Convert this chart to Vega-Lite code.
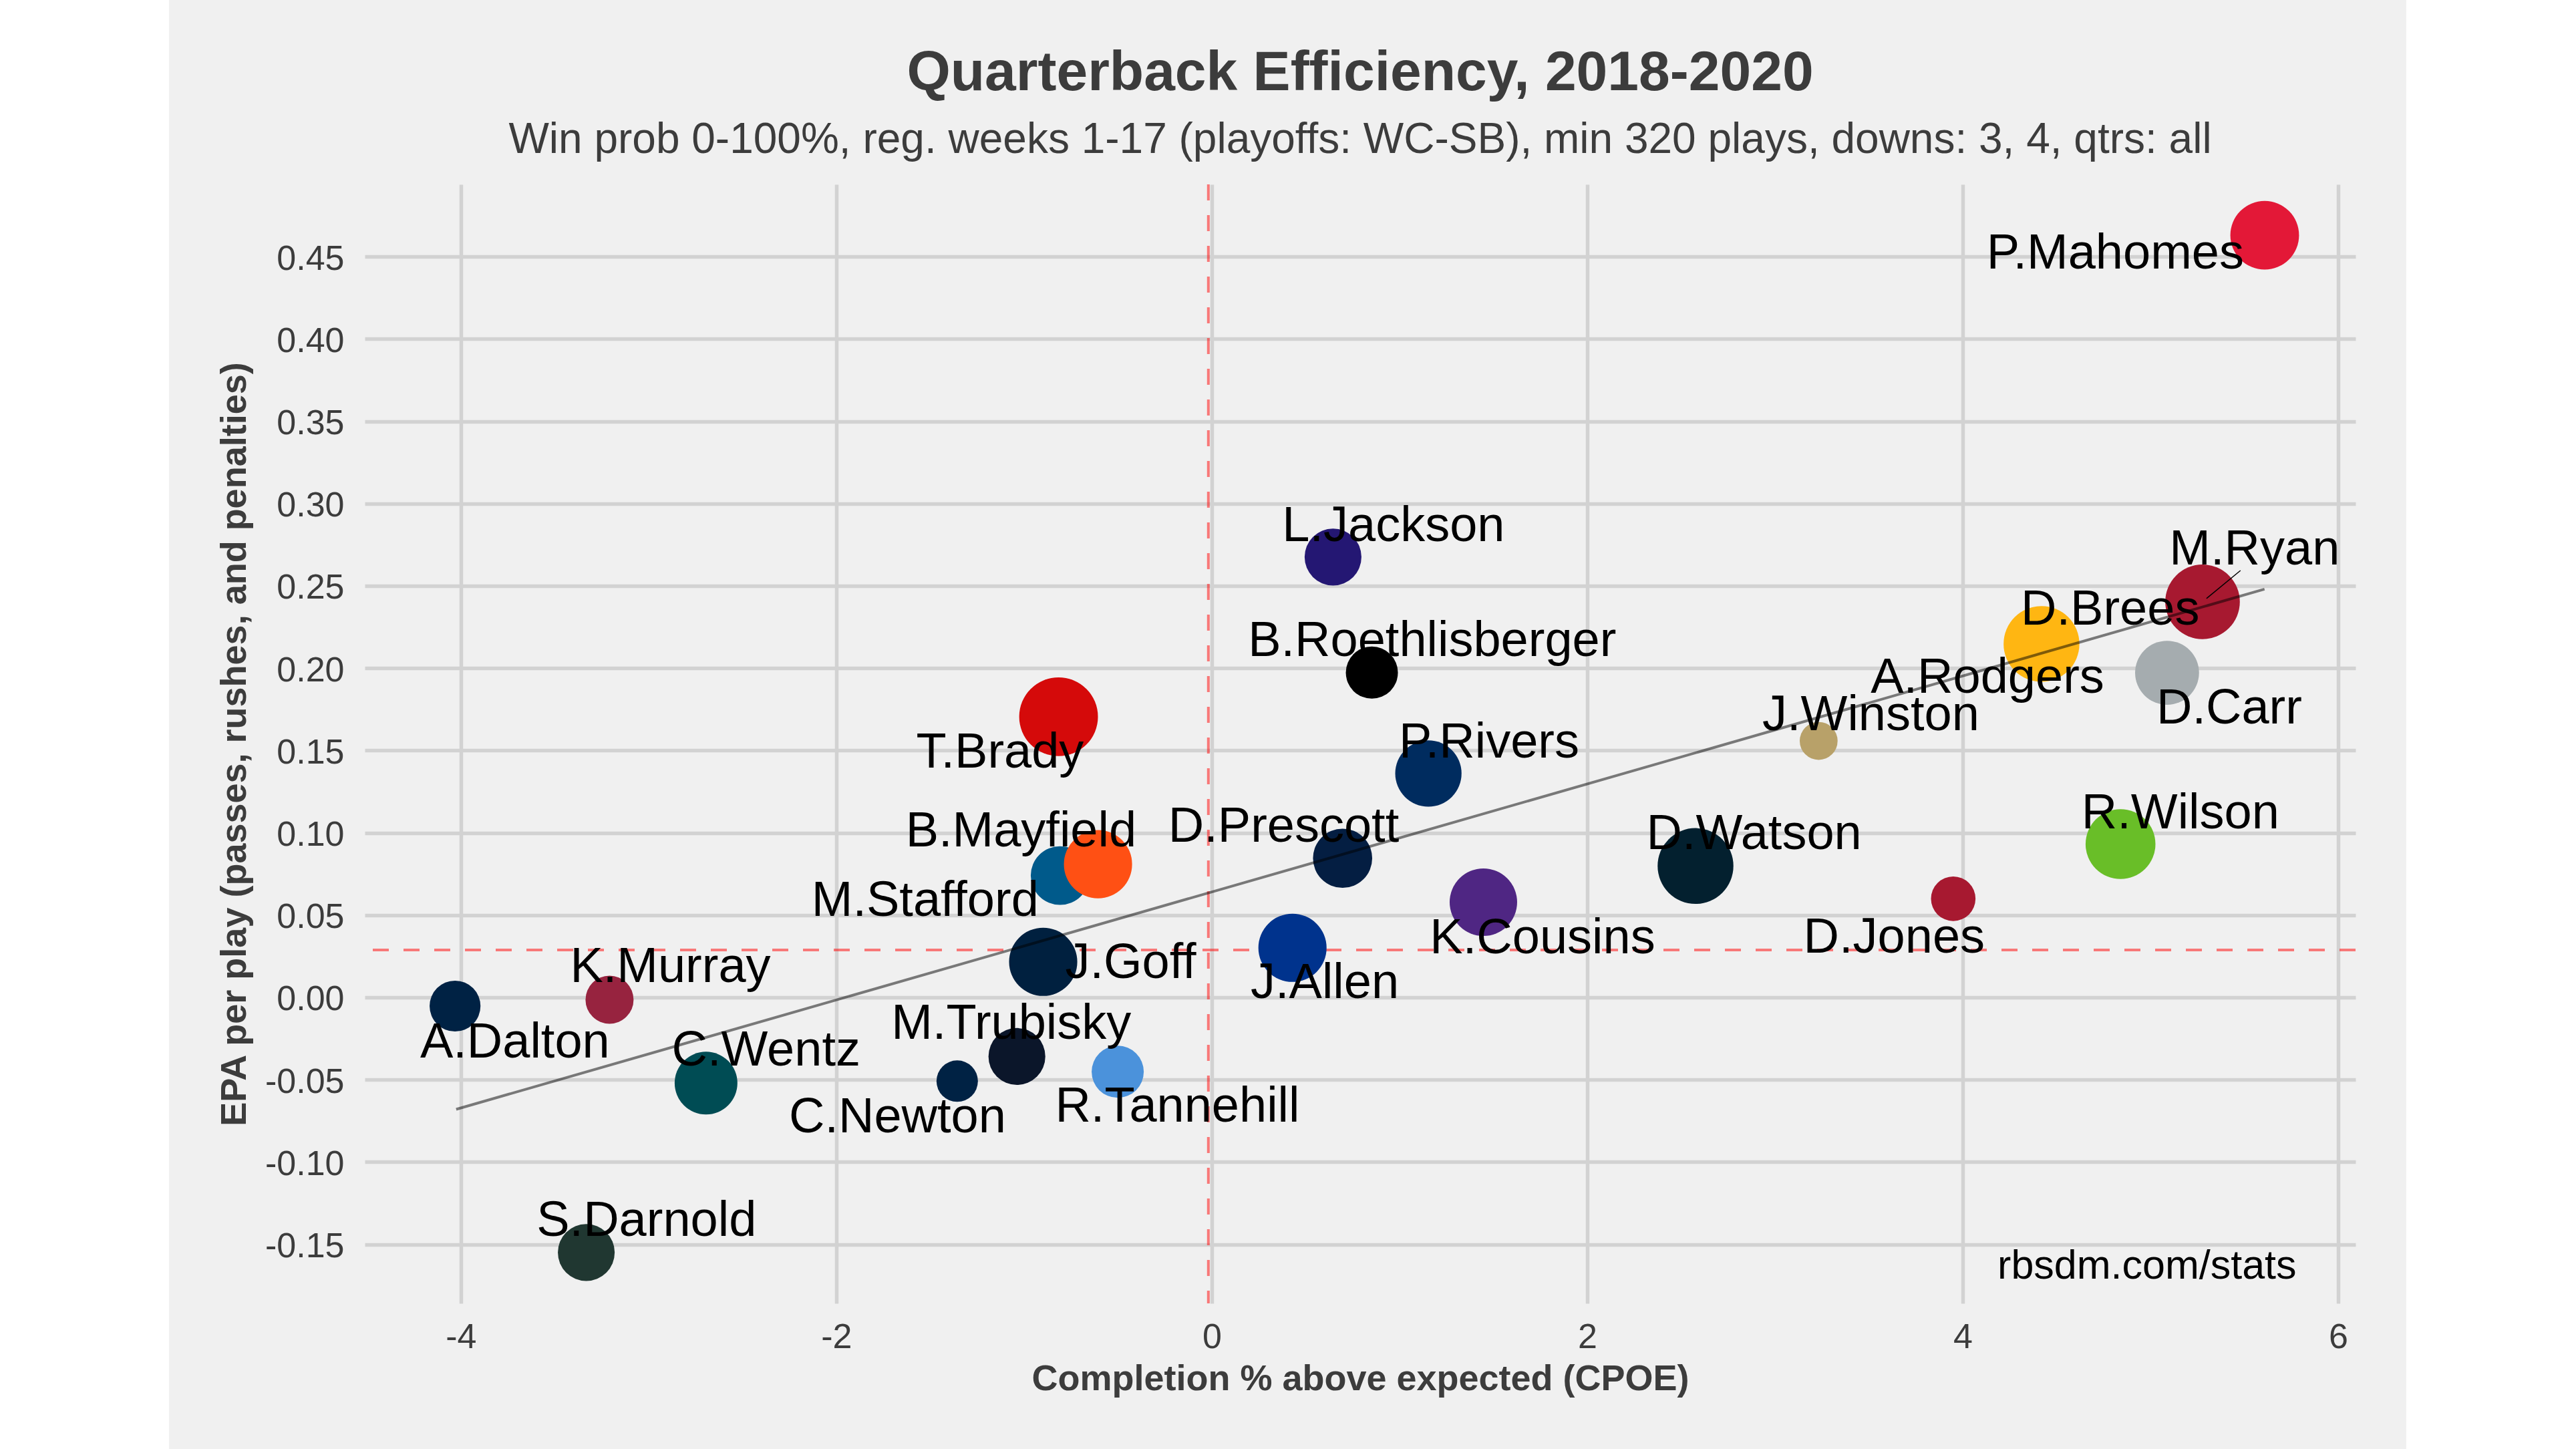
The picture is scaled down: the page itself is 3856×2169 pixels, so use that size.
{
  "$schema": "https://vega.github.io/schema/vega-lite/v6.json",
  "width": 2980,
  "height": 1675,
  "autosize": {"type": "none"},
  "padding": {"left": 546, "top": 276, "right": 330, "bottom": 218},
  "background": "#F0F0F0",
  "title": {
    "text": "Quarterback Efficiency, 2018-2020",
    "subtitle": "Win prob 0-100%, reg. weeks 1-17 (playoffs: WC-SB), min 320 plays, downs: 3, 4, qtrs: all",
    "fontSize": 84,
    "subtitleFontSize": 64,
    "fontWeight": "bold",
    "color": "#3C3C3C",
    "subtitleColor": "#3C3C3C",
    "font": "Liberation Sans",
    "subtitleFont": "Liberation Sans",
    "anchor": "middle",
    "frame": "group",
    "subtitlePadding": 25,
    "offset": -243
  },
  "datasets": {
    "qb": [
      {"player": "P.Mahomes", "team": "KC", "cpoe": 5.609, "epa": 0.463, "plays": 841, "lx": 4.813, "ly": 0.4428},
      {"player": "M.Ryan", "team": "ATL", "cpoe": 5.278, "epa": 0.2403, "plays": 992, "lx": 5.555, "ly": 0.263},
      {"player": "D.Brees", "team": "NO", "cpoe": 4.43, "epa": 0.216, "plays": 625, "lx": 4.786, "ly": 0.2265},
      {"player": "A.Rodgers", "team": "GB", "cpoe": 4.42, "epa": 0.2147, "plays": 1024, "lx": 4.132, "ly": 0.185},
      {"player": "D.Carr", "team": "LV", "cpoe": 5.089, "epa": 0.1972, "plays": 729, "lx": 5.42, "ly": 0.1664},
      {"player": "J.Winston", "team": "NO", "cpoe": 3.233, "epa": 0.1558, "plays": 256, "lx": 3.511, "ly": 0.1623},
      {"player": "R.Wilson", "team": "SEA", "cpoe": 4.841, "epa": 0.0931, "plays": 870, "lx": 5.16, "ly": 0.1025},
      {"player": "D.Jones", "team": "NYG", "cpoe": 3.95, "epa": 0.0599, "plays": 353, "lx": 3.635, "ly": 0.0272},
      {"player": "D.Watson", "team": "HOU", "cpoe": 2.577, "epa": 0.0798, "plays": 1024, "lx": 2.889, "ly": 0.0902},
      {"player": "K.Cousins", "team": "MIN", "cpoe": 1.447, "epa": 0.0578, "plays": 812, "lx": 1.762, "ly": 0.0268},
      {"player": "P.Rivers", "team": "IND", "cpoe": 1.154, "epa": 0.136, "plays": 784, "lx": 1.477, "ly": 0.1458},
      {"player": "B.Roethlisberger", "team": "PIT", "cpoe": 0.853, "epa": 0.1973, "plays": 484, "lx": 1.174, "ly": 0.2072},
      {"player": "L.Jackson", "team": "BAL", "cpoe": 0.646, "epa": 0.2675, "plays": 576, "lx": 0.968, "ly": 0.2773},
      {"player": "D.Prescott", "team": "DAL", "cpoe": 0.697, "epa": 0.0845, "plays": 625, "lx": 0.383, "ly": 0.0946},
      {"player": "J.Allen", "team": "BUF", "cpoe": 0.43, "epa": 0.0301, "plays": 829, "lx": 0.602, "ly": -0.0004},
      {"player": "T.Brady", "team": "TB", "cpoe": -0.816, "epa": 0.1705, "plays": 1106, "lx": -1.128, "ly": 0.1394},
      {"player": "M.Stafford", "team": "DET", "cpoe": -0.808, "epa": 0.074, "plays": 613, "lx": -1.527, "ly": 0.0495},
      {"player": "B.Mayfield", "team": "CLE", "cpoe": -0.606, "epa": 0.0809, "plays": 829, "lx": -1.016, "ly": 0.0915},
      {"player": "J.Goff", "team": "LA", "cpoe": -0.898, "epa": 0.0216, "plays": 829, "lx": -0.432, "ly": 0.0118},
      {"player": "M.Trubisky", "team": "CHI", "cpoe": -1.038, "epa": -0.0359, "plays": 576, "lx": -1.068, "ly": -0.025},
      {"player": "R.Tannehill", "team": "TEN", "cpoe": -0.501, "epa": -0.0452, "plays": 484, "lx": -0.183, "ly": -0.0755},
      {"player": "C.Newton", "team": "NE", "cpoe": -1.356, "epa": -0.0509, "plays": 306, "lx": -1.674, "ly": -0.082},
      {"player": "C.Wentz", "team": "PHI", "cpoe": -2.694, "epa": -0.0521, "plays": 702, "lx": -2.374, "ly": -0.0416},
      {"player": "K.Murray", "team": "ARI", "cpoe": -3.208, "epa": -0.0014, "plays": 412, "lx": -2.884, "ly": 0.0092},
      {"player": "A.Dalton", "team": "DAL2", "cpoe": -4.031, "epa": -0.0053, "plays": 462, "lx": -3.712, "ly": -0.0364},
      {"player": "S.Darnold", "team": "NYJ", "cpoe": -3.332, "epa": -0.155, "plays": 576, "lx": -3.011, "ly": -0.1451}
    ],
    "fit": [
      {"cpoe": -4.025, "epa": -0.068},
      {"cpoe": 5.608, "epa": 0.248}
    ],
    "segment": [
      {"cpoe": 5.299, "epa": 0.2423, "cpoe2": 5.48, "epa2": 0.2593}
    ]
  },
  "layer": [
    {
      "data": {"values": [{}]},
      "mark": {"type": "rect", "color": "#FFFFFF"},
      "encoding": {
        "x": {"datum": -6.5, "type": "quantitative", "title": "Completion % above expected (CPOE)"},
        "x2": {"datum": -5.555},
        "y": {"datum": -0.275, "type": "quantitative", "title": "EPA per play (passes, rushes, and penalties)"},
        "y2": {"datum": 0.606}
      }
    },
    {
      "data": {"values": [{}]},
      "mark": {"type": "rect", "color": "#FFFFFF"},
      "encoding": {
        "x": {"datum": 6.363, "type": "quantitative", "title": "Completion % above expected (CPOE)"},
        "x2": {"datum": 7.3},
        "y": {"datum": -0.275, "type": "quantitative", "title": "EPA per play (passes, rushes, and penalties)"},
        "y2": {"datum": 0.606}
      }
    },
    {
      "data": {"values": [{}]},
      "mark": {"type": "rule", "color": "red", "opacity": 0.5, "strokeWidth": 4, "strokeDash": [24, 22]},
      "encoding": {
        "y": {"datum": 0.0288, "type": "quantitative", "title": "EPA per play (passes, rushes, and penalties)"}
      }
    },
    {
      "data": {"values": [{}]},
      "mark": {"type": "rule", "color": "red", "opacity": 0.5, "strokeWidth": 4, "strokeDash": [24, 22]},
      "encoding": {
        "x": {"datum": -0.018, "type": "quantitative", "title": "Completion % above expected (CPOE)"}
      }
    },
    {
      "data": {"name": "qb"},
      "mark": {"type": "circle", "opacity": 1, "stroke": null},
      "encoding": {
        "x": {
          "field": "cpoe", "type": "quantitative",
          "title": "Completion % above expected (CPOE)",
          "scale": {"domain": [-4.512, 6.093], "nice": false, "zero": false},
          "axis": {
            "values": [-4, -2, 0, 2, 4, 6],
            "labelExpr": "datum.value < 0 ? '-' + format(-datum.value, 'd') : format(datum.value, 'd')"
          }
        },
        "y": {
          "field": "epa", "type": "quantitative",
          "title": "EPA per play (passes, rushes, and penalties)",
          "scale": {"domain": [-0.1859, 0.4939], "nice": false, "zero": false},
          "axis": {
            "values": [-0.15, -0.1, -0.05, 0, 0.05, 0.1, 0.15, 0.2, 0.25, 0.3, 0.35, 0.4, 0.45],
            "labelExpr": "datum.value < -0.0001 ? '-' + format(-datum.value, '.2f') : format(abs(datum.value), '.2f')"
          }
        },
        "size": {
          "field": "plays", "type": "quantitative",
          "scale": {"type": "linear", "domain": [0, 1000], "range": [0, 12566], "zero": true},
          "legend": null
        },
        "color": {
          "field": "team", "type": "nominal",
          "scale": {
            "domain": ["KC", "ATL", "NO", "GB", "LV", "SEA", "NYG", "HOU", "MIN", "IND", "PIT", "BAL", "DAL", "BUF", "TB", "DET", "CLE", "LA", "CHI", "TEN", "NE", "PHI", "ARI", "DAL2", "NYJ"],
            "range": ["#E31837", "#A71930", "#B8A169", "#FFB612", "#A5ACAF", "#69BE28", "#A71930", "#03202F", "#4F2683", "#002C5F", "#000000", "#241773", "#041E42", "#00338D", "#D50A0A", "#005A8B", "#FF5014", "#00203F", "#0B162A", "#4B92DB", "#002244", "#004C54", "#97233F", "#002244", "#203731"]
          },
          "legend": null
        }
      }
    },
    {
      "data": {"name": "fit"},
      "mark": {"type": "line", "color": "#000000", "opacity": 0.5, "strokeWidth": 4},
      "encoding": {
        "x": {"field": "cpoe", "type": "quantitative", "title": "Completion % above expected (CPOE)"},
        "y": {"field": "epa", "type": "quantitative", "title": "EPA per play (passes, rushes, and penalties)"}
      }
    },
    {
      "data": {"name": "segment"},
      "mark": {"type": "rule", "color": "#000000", "strokeWidth": 1.5},
      "encoding": {
        "x": {"field": "cpoe", "type": "quantitative", "title": "Completion % above expected (CPOE)"},
        "y": {"field": "epa", "type": "quantitative", "title": "EPA per play (passes, rushes, and penalties)"},
        "x2": {"field": "cpoe2"},
        "y2": {"field": "epa2"}
      }
    },
    {
      "data": {"name": "qb"},
      "mark": {"type": "text", "fontSize": 74, "font": "Liberation Sans", "color": "#000000", "align": "center", "baseline": "alphabetic"},
      "encoding": {
        "x": {"field": "lx", "type": "quantitative", "title": "Completion % above expected (CPOE)"},
        "y": {"field": "ly", "type": "quantitative", "title": "EPA per play (passes, rushes, and penalties)"},
        "text": {"field": "player", "type": "nominal"}
      }
    },
    {
      "data": {"values": [{}]},
      "mark": {"type": "text", "fontSize": 61, "font": "Liberation Sans", "color": "#000000", "align": "center", "baseline": "alphabetic"},
      "encoding": {
        "x": {"datum": 4.982, "type": "quantitative", "title": "Completion % above expected (CPOE)"},
        "y": {"datum": -0.1709, "type": "quantitative", "title": "EPA per play (passes, rushes, and penalties)"},
        "text": {"value": "rbsdm.com/stats"}
      }
    }
  ],
  "config": {
    "font": "Liberation Sans",
    "view": {"stroke": null},
    "axis": {
      "grid": true,
      "gridColor": "#D2D2D2",
      "gridWidth": 5.5,
      "domain": false,
      "ticks": false,
      "tickSize": 0,
      "labelFont": "Liberation Sans",
      "labelFontSize": 52,
      "labelColor": "#3C3C3C",
      "titleFont": "Liberation Sans",
      "titleFontWeight": "bold",
      "titleColor": "#3C3C3C"
    },
    "axisX": {
      "labelPadding": 25,
      "labelBaseline": "top",
      "titleFontSize": 54,
      "titleBaseline": "alphabetic",
      "titleY": 129,
      "titleX": 1490,
      "titleAlign": "center"
    },
    "axisY": {
      "labelPadding": 31,
      "labelBaseline": "middle",
      "labelOffset": 3,
      "titleFontSize": 54,
      "titleAngle": 270,
      "titleBaseline": "alphabetic",
      "titleAlign": "center",
      "titleX": -179,
      "titleY": 837.5
    }
  }
}
